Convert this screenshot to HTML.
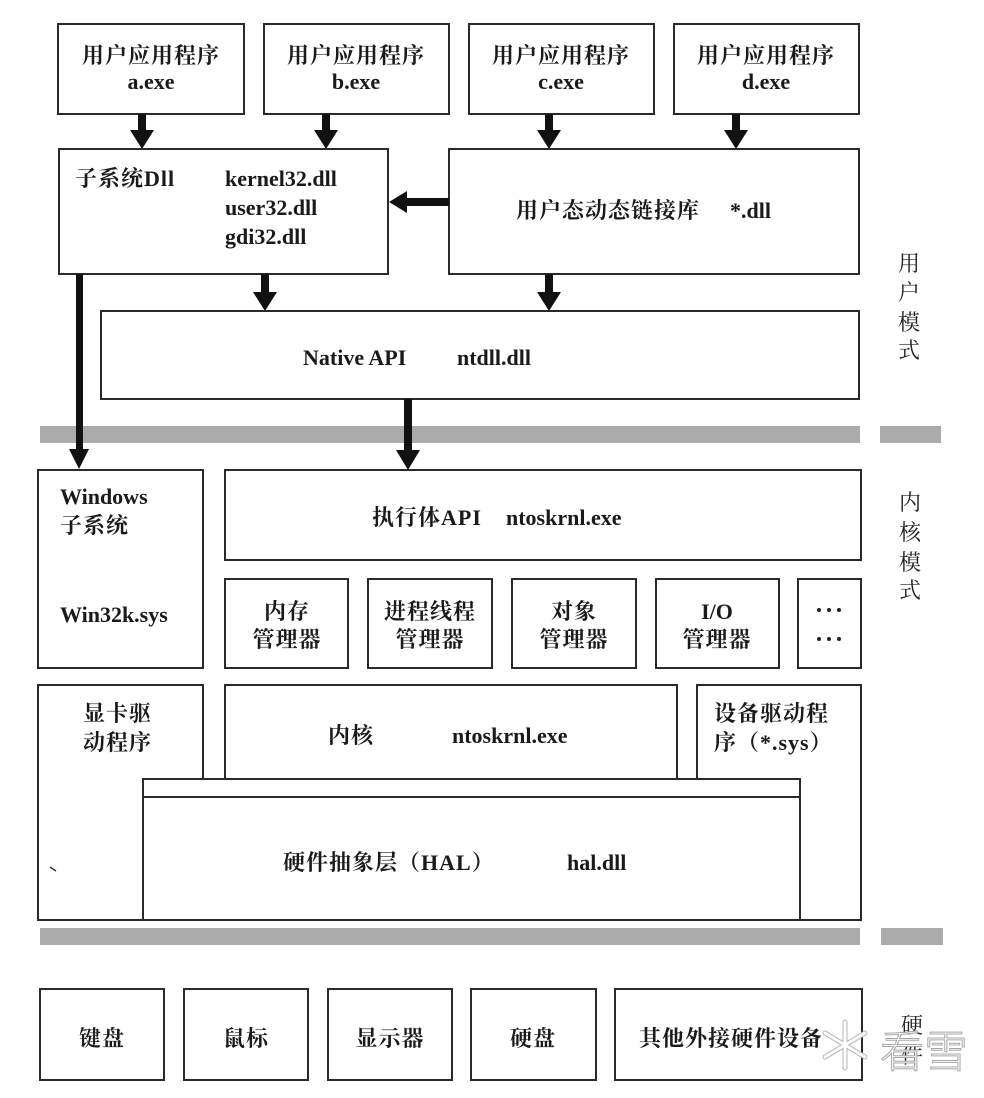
<!DOCTYPE html>
<html>
<head>
<meta charset="utf-8">
<style>
  html, body { margin:0; padding:0; background:#fff; }
  svg { display:block; }
  .t { font-family:"Liberation Serif","Noto Serif CJK SC",serif; font-weight:bold; font-size:22px; fill:#1a1a1a; }
  .c { font-family:"Liberation Serif","Noto Serif CJK SC",serif; font-weight:bold; font-size:22px; fill:#1a1a1a; letter-spacing:1px; }
  .side { font-family:"Liberation Serif","Noto Serif CJK SC",serif; font-size:22px; fill:#222; }
  .box { fill:#fff; stroke:#2a2a2a; stroke-width:2; }
</style>
</head>
<body>
<svg width="984" height="1098" viewBox="0 0 984 1098" xmlns="http://www.w3.org/2000/svg">
  <rect x="0" y="0" width="984" height="1098" fill="#fff"/>

  <!-- Top app boxes -->
  <rect class="box" x="58" y="24" width="186" height="90"/>
  <rect class="box" x="264" y="24" width="185" height="90"/>
  <rect class="box" x="469" y="24" width="185" height="90"/>
  <rect class="box" x="674" y="24" width="185" height="90"/>
  <text class="c" x="151" y="63" text-anchor="middle">用户应用程序</text>
  <text class="t" x="151" y="89" text-anchor="middle">a.exe</text>
  <text class="c" x="356" y="63" text-anchor="middle">用户应用程序</text>
  <text class="t" x="356" y="89" text-anchor="middle">b.exe</text>
  <text class="c" x="561" y="63" text-anchor="middle">用户应用程序</text>
  <text class="t" x="561" y="89" text-anchor="middle">c.exe</text>
  <text class="c" x="766" y="63" text-anchor="middle">用户应用程序</text>
  <text class="t" x="766" y="89" text-anchor="middle">d.exe</text>

  <!-- Down arrows app -> dll -->
  <g fill="#111">
    <rect x="138" y="114" width="8" height="17"/><polygon points="130,130 154,130 142,149"/>
    <rect x="322" y="114" width="8" height="17"/><polygon points="314,130 338,130 326,149"/>
    <rect x="545" y="114" width="8" height="17"/><polygon points="537,130 561,130 549,149"/>
    <rect x="732" y="114" width="8" height="17"/><polygon points="724,130 748,130 736,149"/>
  </g>

  <!-- Subsystem DLL box -->
  <rect class="box" x="59" y="149" width="329" height="125"/>
  <text class="c" x="75" y="186">子系统Dll</text>
  <text class="t" x="225" y="186">kernel32.dll</text>
  <text class="t" x="225" y="215">user32.dll</text>
  <text class="t" x="225" y="244">gdi32.dll</text>

  <!-- User mode DLL box -->
  <rect class="box" x="449" y="149" width="410" height="125"/>
  <text class="c" x="516" y="218">用户态动态链接库</text>
  <text class="t" x="730" y="218">*.dll</text>

  <!-- Left arrow dll -> subsystem -->
  <g fill="#111">
    <rect x="405" y="198" width="44" height="8"/>
    <polygon points="407,191 407,213 389,202"/>
  </g>

  <!-- Arrows to Native API -->
  <g fill="#111">
    <rect x="261" y="274" width="8" height="19"/><polygon points="253,292 277,292 265,311"/>
    <rect x="545" y="274" width="8" height="19"/><polygon points="537,292 561,292 549,311"/>
  </g>

  <!-- Native API box -->
  <rect class="box" x="101" y="311" width="758" height="88"/>
  <text class="t" x="303" y="365">Native API</text>
  <text class="t" x="457" y="365">ntdll.dll</text>

  <!-- Gray band 1 -->
  <rect x="40" y="426" width="820" height="17" fill="#ababab"/>
  <rect x="880" y="426" width="61" height="17" fill="#ababab"/>

  <!-- Long left arrow -->
  <g fill="#111">
    <rect x="76" y="274" width="7" height="176"/>
    <polygon points="69,449 89,449 79,469"/>
  </g>
  <!-- Native -> executive arrow -->
  <g fill="#111">
    <rect x="404" y="399" width="8" height="52"/>
    <polygon points="396,450 420,450 408,470"/>
  </g>

  <!-- Windows subsystem box -->
  <rect class="box" x="38" y="470" width="165" height="198"/>
  <text class="t" x="60" y="504">Windows</text>
  <text class="c" x="60" y="533">子系统</text>
  <text class="t" x="60" y="622">Win32k.sys</text>

  <!-- Executive API box -->
  <rect class="box" x="225" y="470" width="636" height="90"/>
  <text class="c" x="372" y="525">执行体API</text>
  <text class="t" x="506" y="525">ntoskrnl.exe</text>

  <!-- Manager boxes -->
  <rect class="box" x="225" y="579" width="123" height="89"/>
  <rect class="box" x="368" y="579" width="124" height="89"/>
  <rect class="box" x="512" y="579" width="124" height="89"/>
  <rect class="box" x="656" y="579" width="123" height="89"/>
  <rect class="box" x="798" y="579" width="63" height="89"/>
  <text class="c" x="287" y="619" text-anchor="middle">内存</text>
  <text class="c" x="287" y="647" text-anchor="middle">管理器</text>
  <text class="c" x="430" y="619" text-anchor="middle">进程线程</text>
  <text class="c" x="430" y="647" text-anchor="middle">管理器</text>
  <text class="c" x="574" y="619" text-anchor="middle">对象</text>
  <text class="c" x="574" y="647" text-anchor="middle">管理器</text>
  <text class="t" x="717" y="619" text-anchor="middle">I/O</text>
  <text class="c" x="717" y="647" text-anchor="middle">管理器</text>
  <g fill="#222">
    <circle cx="819" cy="610" r="2"/><circle cx="829" cy="610" r="2"/><circle cx="839" cy="610" r="2"/>
    <circle cx="819" cy="639" r="2"/><circle cx="829" cy="639" r="2"/><circle cx="839" cy="639" r="2"/>
  </g>

  <!-- Display driver polygon -->
  <polygon class="box" points="38,685 203,685 203,779 143,779 143,920 38,920"/>
  <text class="c" x="83" y="721">显卡驱</text>
  <text class="c" x="83" y="750">动程序</text>
  <line x1="50" y1="867" x2="56" y2="871" stroke="#333" stroke-width="1.5"/>

  <!-- Kernel box -->
  <rect class="box" x="225" y="685" width="452" height="94"/>
  <text class="c" x="328" y="743">内核</text>
  <text class="t" x="452" y="743">ntoskrnl.exe</text>

  <!-- Device driver polygon -->
  <polygon class="box" points="697,685 861,685 861,920 800,920 800,779 697,779"/>
  <text class="c" x="714" y="721">设备驱动程</text>
  <text class="c" x="714" y="750">序（*.sys）</text>

  <!-- HAL box -->
  <rect class="box" x="143" y="779" width="657" height="141"/>
  <line x1="143" y1="797" x2="800" y2="797" stroke="#2a2a2a" stroke-width="2"/>
  <line x1="38" y1="920" x2="861" y2="920" stroke="#2a2a2a" stroke-width="2"/>
  <text class="c" x="283" y="870">硬件抽象层（HAL）</text>
  <text class="t" x="567" y="870">hal.dll</text>

  <!-- Gray band 2 -->
  <rect x="40" y="928" width="820" height="17" fill="#ababab"/>
  <rect x="881" y="928" width="62" height="17" fill="#ababab"/>

  <!-- Hardware boxes -->
  <rect class="box" x="40" y="989" width="124" height="91"/>
  <rect class="box" x="184" y="989" width="124" height="91"/>
  <rect class="box" x="328" y="989" width="124" height="91"/>
  <rect class="box" x="471" y="989" width="125" height="91"/>
  <rect class="box" x="615" y="989" width="247" height="91"/>
  <text class="c" x="102" y="1046" text-anchor="middle">键盘</text>
  <text class="c" x="246" y="1046" text-anchor="middle">鼠标</text>
  <text class="c" x="390" y="1046" text-anchor="middle">显示器</text>
  <text class="c" x="533" y="1046" text-anchor="middle">硬盘</text>
  <text class="c" x="639" y="1046">其他外接硬件设备</text>

  <!-- Side labels -->
  <g class="side" text-anchor="middle">
    <text x="909" y="271">用</text>
    <text x="909" y="300">户</text>
    <text x="909" y="330">模</text>
    <text x="909" y="358">式</text>
    <text x="910" y="510">内</text>
    <text x="910" y="540">核</text>
    <text x="910" y="570">模</text>
    <text x="910" y="598">式</text>
    <text x="912" y="1033">硬</text>
    <text x="912" y="1063">件</text>
  </g>

  <!-- Watermark -->
  <g stroke-linecap="round">
    <g stroke="#b5b5b5" stroke-width="5">
      <line x1="845" y1="1022" x2="845" y2="1068"/>
      <line x1="825" y1="1033" x2="865" y2="1057"/>
      <line x1="825" y1="1057" x2="865" y2="1033"/>
    </g>
    <g stroke="#ffffff" stroke-width="3">
      <line x1="845" y1="1022" x2="845" y2="1068"/>
      <line x1="825" y1="1033" x2="865" y2="1057"/>
      <line x1="825" y1="1057" x2="865" y2="1033"/>
    </g>
  </g>
  <text x="880" y="1067" font-family="'Noto Sans CJK SC',sans-serif" font-size="44" font-weight="300" fill="#ffffff" stroke="#a8a8a8" stroke-width="1" fill-opacity="0.9">看雪</text>
</svg>
</body>
</html>
